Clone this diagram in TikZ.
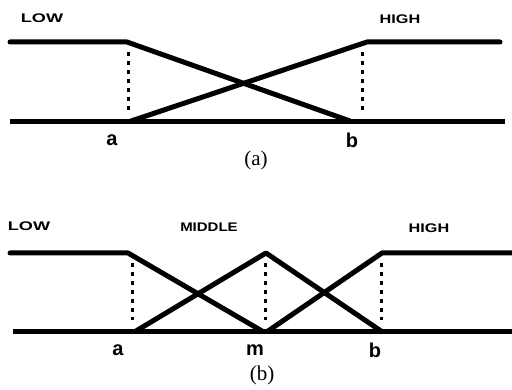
\documentclass[tikz,border=0pt]{standalone}
\usepackage{fontspec}
\setmainfont{Liberation Serif}
\setsansfont{Liberation Sans}
\tikzset{
  mfline/.style={
    line width=5pt,
    line cap=round,
    line join=round
  },
  baseline/.style={
    line width=5pt
  },
  guide/.style={
    line width=3pt,
    dash pattern=on 4pt off 5pt
  },
  setlabel/.style={
    inner sep=0pt,
    font=\sffamily\bfseries\fontsize{12.5}{12.5}\selectfont
  },
  pointlabel/.style={
    inner sep=0pt,
    font=\sffamily\bfseries\fontsize{20}{20}\selectfont
  },
  partlabel/.style={
    inner sep=0pt,
    font=\fontsize{21}{21}\selectfont
  }
}
\newcommand{\widelabel}[2][1.3]{\scalebox{#1}[1]{#2}}

\begin{document}
\begin{tikzpicture}[x=1pt,y=-1pt]
  \useasboundingbox (0,0) rectangle (512,390);

  % (a) two sets
  \coordinate (pa) at (128,122);
  \coordinate (pb) at (362,122);
  \draw[baseline] (10,122) -- (505,122);
  \draw[mfline] (10,42) -- (127,42) -- (350,121);
  \draw[mfline] (131,121) -- (367,42) -- (500,42);
  \draw[guide] ([yshift=70pt]pa) -- ([yshift=8pt]pa);
  \draw[guide] ([yshift=70pt]pb) -- ([yshift=8pt]pb);
  \node[setlabel] (lowA) at (42,18) {\widelabel[1.45]{LOW}};
  \node[setlabel] (highA) at (400,19) {\widelabel[1.3]{HIGH}};
  \node[pointlabel] (labA) at (112,140) {a};
  \node[pointlabel] (labB) at (352,140) {b};
  \node[partlabel] (capA) at (256,160) {(a)};

  % (b) three sets
  \coordinate (qa) at (132,332);
  \coordinate (qm) at (265,332);
  \coordinate (qb) at (381,332);
  \draw[baseline] (13,332) -- (512,332);
  \draw[mfline] (10,253) -- (128,253) -- (262,331);
  \draw[mfline] (136,331) -- (266,253) -- (381,331);
  \draw[mfline] (268,331) -- (382,253) -- (512,253);
  \foreach \p in {qa,qm,qb}
    \draw[guide] ([yshift=69pt]\p) -- ([yshift=12pt]\p);
  \node[setlabel] (lowB) at (29,226) {\widelabel[1.45]{LOW}};
  \node[setlabel] (midB) at (209,227) {\widelabel[1.2]{MIDDLE}};
  \node[setlabel] (highB) at (429,228) {\widelabel[1.3]{HIGH}};
  \node[pointlabel] (labA2) at (118,350) {a};
  \node[pointlabel] (labM) at (255,350) {m};
  \node[pointlabel] (labB2) at (375,350) {b};
  \node[partlabel] (capB) at (262,375) {(b)};
\end{tikzpicture}
\end{document}
